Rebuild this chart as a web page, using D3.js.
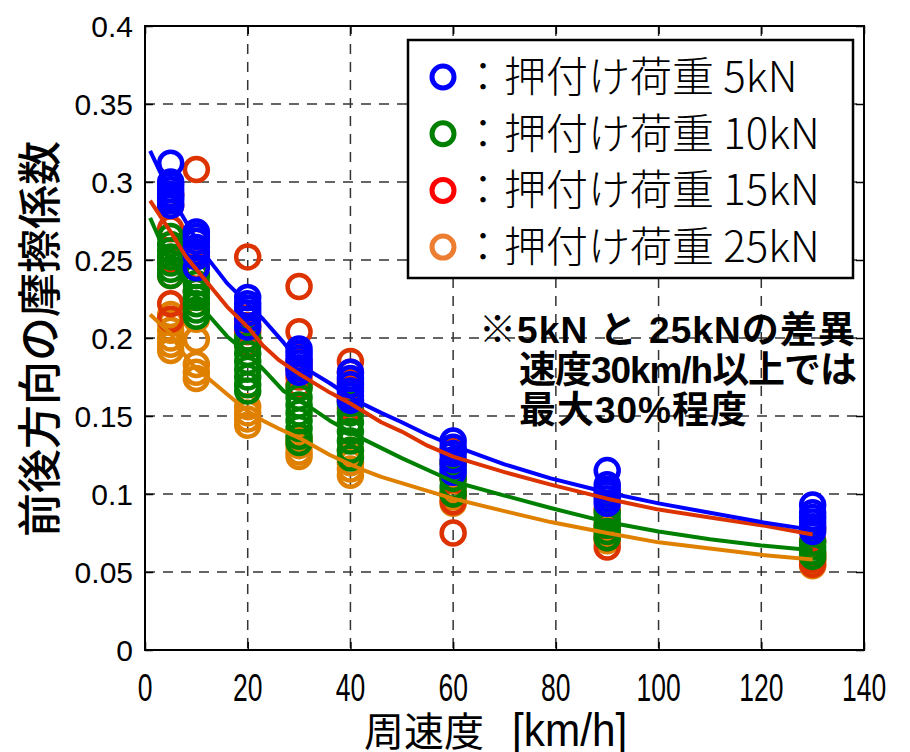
<!DOCTYPE html>
<html>
<head>
<meta charset="utf-8">
<script src="https://cdn.jsdelivr.net/npm/d3@7"></script>
<style>
  body { margin: 0; background: #fff; }
  svg { display: block; }
</style>
</head>
<body>
<div id="chart"></div>
<script>
// speeds where the measurements were taken
var speeds = [5, 10, 20, 30, 40, 60, 90, 130];

// measured friction coefficients, one list per speed
var load5kN = [
  [0.312, 0.300, 0.298, 0.295, 0.292, 0.290, 0.288, 0.285],
  [0.268, 0.265, 0.262, 0.258, 0.255, 0.252, 0.245],
  [0.226, 0.222, 0.219, 0.216, 0.212, 0.207],
  [0.193, 0.190, 0.187, 0.184, 0.181, 0.178],
  [0.178, 0.174, 0.170, 0.166, 0.163, 0.160],
  [0.134, 0.130, 0.126, 0.122, 0.118, 0.114],
  [0.115, 0.106, 0.103, 0.100, 0.097, 0.094],
  [0.093, 0.088, 0.085, 0.082, 0.079, 0.076]
];
var load10kN = [
  [0.265, 0.260, 0.256, 0.252, 0.248, 0.244, 0.240],
  [0.240, 0.235, 0.230, 0.226, 0.222, 0.218, 0.214],
  [0.200, 0.195, 0.190, 0.185, 0.180, 0.175, 0.170, 0.166],
  [0.168, 0.162, 0.157, 0.152, 0.147, 0.142, 0.137, 0.133],
  [0.158, 0.152, 0.146, 0.140, 0.134, 0.128, 0.123],
  [0.120, 0.115, 0.110, 0.105, 0.100],
  [0.088, 0.084, 0.080, 0.076, 0.072],
  [0.069, 0.066, 0.063, 0.060]
];
var load15kN = [
  [0.292, 0.285, 0.270, 0.250, 0.240, 0.222, 0.212],
  [0.308, 0.262, 0.255, 0.246, 0.240, 0.230],
  [0.252, 0.213, 0.208, 0.204, 0.200, 0.196],
  [0.233, 0.204, 0.185, 0.180, 0.175, 0.170],
  [0.185, 0.178, 0.172, 0.168, 0.160, 0.155],
  [0.128, 0.120, 0.110, 0.100, 0.095, 0.075],
  [0.100, 0.090, 0.080, 0.072, 0.066],
  [0.078, 0.070, 0.062, 0.058, 0.055]
];
var load25kN = [
  [0.215, 0.210, 0.205, 0.200, 0.196, 0.192],
  [0.212, 0.199, 0.183, 0.178, 0.174],
  [0.156, 0.152, 0.148, 0.144],
  [0.135, 0.131, 0.127, 0.124],
  [0.128, 0.124, 0.120, 0.116, 0.112],
  [0.102, 0.098, 0.094],
  [0.078, 0.074, 0.070],
  [0.060, 0.057, 0.054]
];

// fitted curves: [speed, coefficient]
var fit5kN = [[1,0.320],[3,0.306],[5,0.293],[7,0.280],[10,0.263],[12,0.252],[16,0.235],[20,0.222],[23,0.212],[27,0.197],[31,0.181],[36,0.171],[41,0.160],[46,0.152],[50,0.146],[55,0.138],[60,0.131],[70,0.119],[79,0.110],[90,0.101],[100,0.094],[110,0.088],[120,0.082],[130,0.077]];
var fit10kN = [[1,0.277],[3,0.262],[5,0.250],[8,0.235],[10,0.226],[12,0.216],[16,0.201],[20,0.190],[23,0.180],[27,0.166],[32,0.156],[36,0.147],[42,0.136],[50,0.123],[60,0.108],[70,0.099],[79,0.091],[90,0.082],[100,0.076],[110,0.071],[120,0.067],[130,0.064]];
var fit15kN = [[1,0.288],[3,0.278],[5,0.268],[8,0.252],[10,0.244],[13,0.232],[16,0.220],[20,0.207],[23,0.195],[26,0.186],[30,0.177],[36,0.165],[40,0.158],[46,0.146],[50,0.140],[55,0.131],[60,0.124],[70,0.114],[79,0.106],[90,0.097],[100,0.090],[110,0.085],[120,0.080],[130,0.074]];
var fit25kN = [[1,0.215],[3,0.209],[5,0.203],[7,0.192],[10,0.180],[12,0.175],[16,0.164],[20,0.153],[23,0.147],[26,0.142],[30,0.136],[36,0.125],[42,0.116],[46,0.111],[50,0.107],[60,0.097],[70,0.089],[79,0.082],[90,0.075],[100,0.069],[110,0.065],[120,0.061],[130,0.058]];

var legendLabels = ['：押付け荷重 5kN', '：押付け荷重 10kN', '：押付け荷重 15kN', '：押付け荷重 25kN'];
var xTicks = [0, 20, 40, 60, 80, 100, 120, 140];
var yTicks = [0, 0.05, 0.1, 0.15, 0.2, 0.25, 0.3, 0.35, 0.4];
var noteLines = ['※5kN と 25kNの差異', '速度30km/h以上では', '最大30%程度'];
var noteWidths = [376, 338, 228];

// series, in the order they are painted
var series = [
  { pts: load25kN, fit: fit25kN, color: '#e08000' },
  { pts: load15kN, fit: fit15kN, color: '#dd3300' },
  { pts: load10kN, fit: fit10kN, color: '#008000' },
  { pts: load5kN,  fit: fit5kN,  color: '#0000ff' }
];
var legendColors = ['#0000ff', '#008000', '#ff0000', '#ed7d31'];

var margin = { top: 26, left: 145 };
var width  = 719;
var height = 624;

var svg = d3.select('#chart').append('svg')
  .attr('width', 910)
  .attr('height', 752);

var x = d3.scaleLinear().domain([0, 140]).range([0, width]);
var y = d3.scaleLinear().domain([0, 0.4]).range([height, 0]);

var g = svg.append('g')
  .attr('transform', 'translate(' + margin.left + ',' + margin.top + ')');

// dashed grid
g.append('g').selectAll('line').data(xTicks.slice(1, -1))
  .enter().append('line')
    .attr('x1', function(d) { return x(d); })
    .attr('x2', function(d) { return x(d); })
    .attr('y1', 0).attr('y2', height)
    .attr('stroke', '#333').attr('stroke-width', 1.5)
    .attr('stroke-dasharray', '10,8');
g.append('g').selectAll('line').data(yTicks.slice(1, -1))
  .enter().append('line')
    .attr('y1', function(d) { return y(d); })
    .attr('y2', function(d) { return y(d); })
    .attr('x1', 0).attr('x2', width)
    .attr('stroke', '#333').attr('stroke-width', 1.5)
    .attr('stroke-dasharray', '10,8');

// inner ticks on all four sides
var tickLen = 8;
g.append('g').call(d3.axisBottom(x).tickValues(xTicks).tickSize(-tickLen).tickFormat(''))
  .attr('transform', 'translate(0,' + height + ')');
g.append('g').call(d3.axisTop(x).tickValues(xTicks).tickSize(-tickLen).tickFormat(''));
g.append('g').call(d3.axisLeft(y).tickValues(yTicks).tickSize(-tickLen).tickFormat(''));
g.append('g').call(d3.axisRight(y).tickValues(yTicks).tickSize(-tickLen).tickFormat(''))
  .attr('transform', 'translate(' + width + ',0)');
g.selectAll('.domain').remove();
g.selectAll('.tick line').attr('stroke', '#000').attr('stroke-width', 1.5);

// circles
series.forEach(function(s) {
  var flat = [];
  s.pts.forEach(function(list, i) {
    list.forEach(function(v) { flat.push({ sp: speeds[i], v: v }); });
  });
  g.append('g').selectAll('circle').data(flat)
    .enter().append('circle')
      .attr('cx', function(d) { return x(d.sp); })
      .attr('cy', function(d) { return y(d.v); })
      .attr('r', 11.5)
      .attr('fill', 'none')
      .attr('stroke', s.color)
      .attr('stroke-width', 4.5);
});

// fitted curves
var line = d3.line()
  .x(function(d) { return x(d[0]); })
  .y(function(d) { return y(d[1]); });
series.forEach(function(s) {
  g.append('path')
    .attr('d', line(s.fit))
    .attr('fill', 'none')
    .attr('stroke', s.color)
    .attr('stroke-width', 4)
    .attr('stroke-linejoin', 'round');
});

// frame
g.append('rect')
  .attr('width', width).attr('height', height)
  .attr('fill', 'none').attr('stroke', '#000').attr('stroke-width', 2);

// tick labels
g.append('g').selectAll('text').data(yTicks)
  .enter().append('text')
    .attr('x', -12)
    .attr('y', function(d) { return y(d); })
    .attr('dy', '0.36em')
    .attr('text-anchor', 'end')
    .style('font-family', '"Liberation Sans", Arial, sans-serif')
    .style('font-size', '30px')
    .text(function(d) { return d; });
// x labels in a narrow face: squeeze Liberation Sans horizontally
g.append('g').selectAll('text').data(xTicks)
  .enter().append('text')
    .attr('transform', function(d) {
      return 'translate(' + x(d) + ',' + (height + 51) + ') scale(0.68,1)';
    })
    .attr('text-anchor', 'middle')
    .style('font-family', '"Liberation Sans", sans-serif')
    .style('font-size', '39px')
    .text(function(d) { return d; });

// x axis title
var xTitle = svg.append('g');
var t1 = xTitle.append('text')
  .attr('x', 364).attr('y', 746)
  .style('font-family', '"Noto Sans CJK JP", sans-serif')
  .style('font-size', '40px')
  .text('周速度');
var w1 = t1.node().getComputedTextLength();
xTitle.append('text')
  .attr('transform', 'translate(' + (364 + w1 + 28) + ',746) scale(0.92,1)')
  .style('font-family', '"Liberation Sans", sans-serif')
  .style('font-size', '46px')
  .text('[km/h]');

// y axis title
svg.append('text')
  .attr('transform', 'translate(56,339) rotate(-90)')
  .attr('text-anchor', 'middle')
  .style('font-family', '"Noto Sans CJK JP", sans-serif')
  .style('font-size', '44px')
  .style('font-weight', 500)
  .text('前後方向の摩擦係数');

// legend
var legend = svg.append('g');
legend.append('rect')
  .attr('x', 408).attr('y', 40).attr('width', 445).attr('height', 238)
  .attr('fill', '#fff').attr('stroke', '#000').attr('stroke-width', 2.5);
var rows = legend.selectAll('g.row').data(legendLabels)
  .enter().append('g')
    .attr('transform', function(d, i) { return 'translate(443,' + (77 + i * 56.7) + ')'; });
rows.append('circle')
  .attr('r', 11)
  .attr('fill', 'none')
  .attr('stroke', function(d, i) { return legendColors[i]; })
  .attr('stroke-width', 5);
rows.append('text')
  .attr('x', 19)
  .attr('y', 15)
  .style('font-family', '"Noto Sans CJK JP", sans-serif')
  .style('font-size', '42px')
  .style('font-weight', 300)
  .text(function(d) { return d; });

// note
svg.append('g').selectAll('text').data(noteLines)
  .enter().append('text')
    .attr('x', function(d, i) { return i === 0 ? 479 : 519; })
    .attr('y', function(d, i) { return 343 + i * 40; })
    .attr('textLength', function(d, i) { return noteWidths[i]; })
    .attr('lengthAdjust', 'spacing')
    .style('font-family', '"Liberation Sans", "Noto Sans CJK JP", sans-serif')
    .style('font-size', '37px')
    .style('font-weight', 'bold')
    .text(function(d) { return d; });
</script>
</body>
</html>
